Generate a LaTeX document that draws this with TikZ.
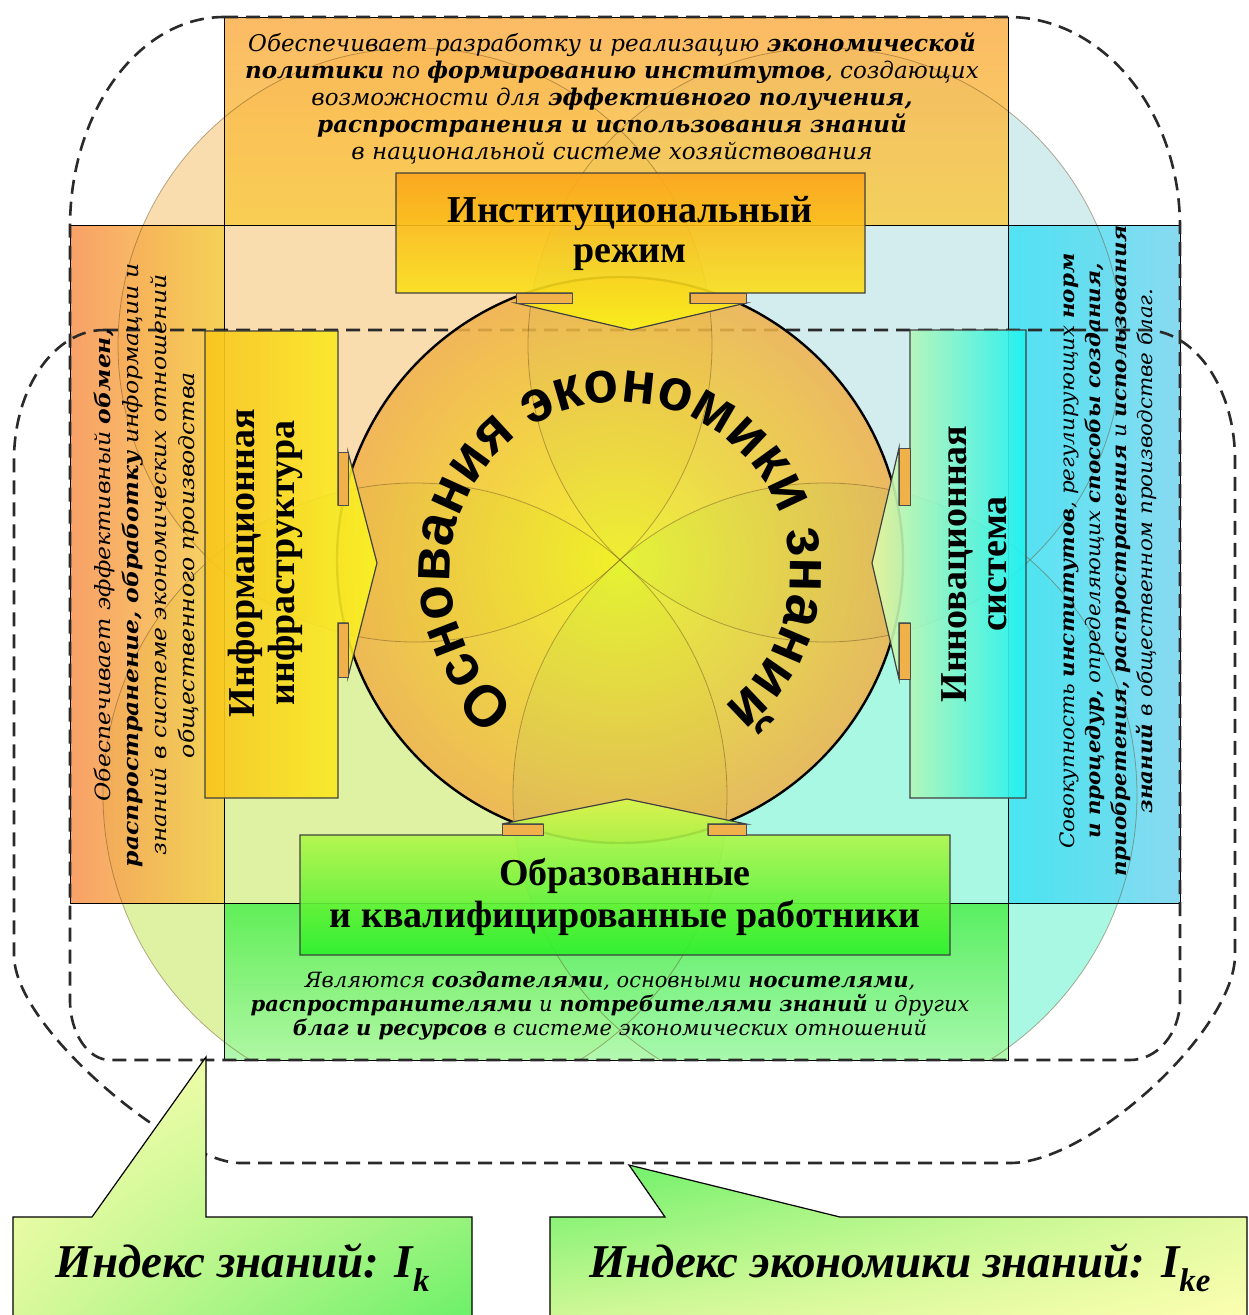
\documentclass[tikz,border=0pt]{standalone}
\usepackage{fontspec}
\setmainfont{DejaVu Serif}
\newfontfamily\bodyA{DejaVu Serif}
\newfontfamily\bodyB[FakeStretch=1.12]{DejaVu Serif}
\newfontfamily\bodyC[FakeStretch=1.07]{DejaVu Serif}
\newfontfamily\titlefont{Liberation Serif}
\newfontfamily\curvefont[FakeStretch=0.96]{Liberation Sans}
\usetikzlibrary{decorations.text,shadings}
\newcommand\bfi[1]{{\bfseries #1}}
\definecolor{topA}{HTML}{FBB04C}
\definecolor{topB}{HTML}{F9CC46}
\definecolor{leftA}{HTML}{F8924F}
\definecolor{leftB}{HTML}{F5D04A}
\definecolor{rightA}{HTML}{3CE2F4}
\definecolor{rightB}{HTML}{74D4EE}
\definecolor{botA}{HTML}{4CEE4C}
\definecolor{botB}{HTML}{A8F8A4}
\definecolor{cUL}{HTML}{F4A62C}
\definecolor{cUR}{HTML}{78C4C8}
\definecolor{cLL}{HTML}{B4E228}
\definecolor{cLR}{HTML}{30F0C0}
\definecolor{ringOut}{HTML}{F0B04A}
\definecolor{ringIn}{HTML}{F4F41C}
\definecolor{btA}{HTML}{FBA51C}
\definecolor{btB}{HTML}{FAF21A}
\definecolor{blA}{HTML}{F9C51C}
\definecolor{blB}{HTML}{FAF424}
\definecolor{brA}{HTML}{E4F8A4}
\definecolor{brB}{HTML}{1EF2F2}
\definecolor{bbA}{HTML}{D8F850}
\definecolor{bbB}{HTML}{2CF02C}
\definecolor{petalc}{HTML}{6A4A20}
\definecolor{dashc}{HTML}{2A2A2A}
\definecolor{calY}{HTML}{FFFFB2}
\definecolor{calM}{HTML}{D8F89A}
\definecolor{calG}{HTML}{66F066}
\begin{document}
\begin{tikzpicture}[x=1pt,y=-1pt,
  dashline/.style={draw=dashc, line width=2.6pt, dash pattern=on 14pt off 8pt},
  petal/.style={draw=petalc, line width=0.8pt, draw opacity=0.45},
  notch/.style={fill=ringOut, draw=black!70, line width=0.8pt},
  boxline/.style={draw=black!75, line width=1.2pt},
  rectline/.style={draw=black, line width=1pt},
  bodytext/.style={align=center, inner sep=0pt},
  titletext/.style={align=center, inner sep=0pt, font=\titlefont\bfseries\fontsize{38}{40}\selectfont},
  calltext/.style={inner sep=0pt, anchor=base, font=\titlefont\bfseries\itshape\fontsize{47}{47}\selectfont},
]
\useasboundingbox (0,0) rectangle (1249,1315);
\fill[white] (0,0) rectangle (1249,1315);

% background circles (clipped to outer region)
\begin{scope}
\clip (224,17) -- (1008,17) arc[start angle=270, end angle=360, x radius=172, y radius=210]
  -- (1180,1000) arc[start angle=0, end angle=90, x radius=50, y radius=60]
  -- (110,1060) arc[start angle=90, end angle=180, x radius=40, y radius=60]
  -- (70,227) arc[start angle=180, end angle=270, x radius=154, y radius=210] -- cycle;
\fill[cUL, fill opacity=.38] (415,345) circle[radius=297];
\fill[cUR, fill opacity=.32] (825,345) circle[radius=297];
\fill[cLL, fill opacity=.42] (415,795) circle[radius=312];
\fill[cLR, fill opacity=.42] (825,795) circle[radius=312];
\end{scope}

% side rectangles
\shade[top color=topA, bottom color=topB, fill opacity=.86] (224,17) rectangle (1008,225);
\shade[left color=leftA, right color=leftB, fill opacity=.86] (70,225) rectangle (224,903);
\shade[left color=rightA, right color=rightB, fill opacity=.86] (1008,225) rectangle (1180,903);
\shade[top color=botA, bottom color=botB, fill opacity=.86] (224,903) rectangle (1008,1060);

% outer dashed outline 2
\draw[dashline] (104,330) -- (1145,330) arc[start angle=270, end angle=360, x radius=90, y radius=130]
  -- (1235,955) .. controls (1235,1030) and (1090,1163) .. (1010,1163)
  -- (240,1163) .. controls (180,1163) and (14,1030) .. (14,955)
  -- (14,460) arc[start angle=180, end angle=270, x radius=90, y radius=130] -- cycle;

% central disc and circle outlines
\begin{scope}
\clip (224,17) -- (1008,17) arc[start angle=270, end angle=360, x radius=172, y radius=210]
  -- (1180,1000) arc[start angle=0, end angle=90, x radius=50, y radius=60]
  -- (110,1060) arc[start angle=90, end angle=180, x radius=40, y radius=60]
  -- (70,227) arc[start angle=180, end angle=270, x radius=154, y radius=210] -- cycle;
\shade[inner color=ringIn, outer color=ringOut, fill opacity=.85] (620,560) circle[radius=283];
\draw[petal] (415,345) circle[radius=297];
\draw[petal] (825,345) circle[radius=297];
\draw[petal] (415,795) circle[radius=312];
\draw[petal] (825,795) circle[radius=312];
\end{scope}

% rectangle borders
\draw[rectline] (224,17) rectangle (1008,225);
\draw[rectline] (70,225) rectangle (224,903);
\draw[rectline] (1008,225) rectangle (1180,903);
\draw[rectline] (224,903) rectangle (1008,1060);

% central circle outline
\draw[line width=2.4pt] (620,560) circle[radius=283];

% boxes with arrows
\shadedraw[top color=btA, bottom color=btB, fill opacity=.9, boxline]
  (396,173) -- (865,173) -- (865,293) -- (690,293) -- (690,303) -- (746,303) -- (631,330)
  -- (516,303) -- (572,303) -- (572,293) -- (396,293) -- cycle;
\filldraw[notch] (516,293) rectangle (572,303);
\filldraw[notch] (690,293) rectangle (746,303);

\shadedraw[left color=blA, right color=blB, fill opacity=.9, boxline]
  (205,331) -- (338,331) -- (338,505) -- (348,505) -- (348,452) -- (377,563) -- (348,677)
  -- (348,623) -- (338,623) -- (338,798) -- (205,798) -- cycle;
\filldraw[notch] (338,452) rectangle (348,505);
\filldraw[notch] (338,623) rectangle (348,677);

\shadedraw[left color=brA, right color=brB, fill opacity=.9, boxline]
  (910,330) -- (1026,330) -- (1026,798) -- (910,798) -- (910,623) -- (899,623) -- (899,679)
  -- (872,563) -- (899,448) -- (899,505) -- (910,505) -- cycle;
\filldraw[notch] (899,448) rectangle (910,505);
\filldraw[notch] (899,623) rectangle (910,679);

\shadedraw[top color=bbA, bottom color=bbB, fill opacity=.9, boxline]
  (300,835) -- (543,835) -- (543,824) -- (502,824) -- (627,799) -- (746,824) -- (708,824)
  -- (708,835) -- (950,835) -- (950,955) -- (300,955) -- cycle;
\filldraw[notch] (502,824) rectangle (543,835);
\filldraw[notch] (708,824) rectangle (746,835);

% curved title
\path[decorate, decoration={text along path, text align=center,
  text={|\curvefont\bfseries\fontsize{59}{59}\selectfont|Основания экономики знаний}}]
  (620,572) ++(118:170) arc[start angle=118, end angle=422, radius=170];

% titles
\node[titletext] (t1) at (630,233) {Институциональный\\режим};
\node[titletext, rotate=90] (t2) at (265,563) {Информационная\\инфраструктура};
\node[titletext, rotate=90] (t3) at (974,564) {Инновационная\\система};
\node[titletext, font=\titlefont\bfseries\fontsize{38}{42}\selectfont] (t4) at (625,897) {Образованные\\и квалифицированные работники};

% body texts
\node[bodytext, font=\bodyA\itshape\fontsize{23}{27}\selectfont] (ttext) at (612,98)
 {Обеспечивает разработку и реализацию \bfi{экономической}\\
  \bfi{политики} по \bfi{формированию институтов}, создающих\\
  возможности для \bfi{эффективного получения,}\\
  \bfi{распространения и использования знаний}\\
  в национальной системе хозяйствования};
\node[bodytext, rotate=90, font=\bodyB\itshape\fontsize{21}{28}\selectfont] (ltext) at (146,565)
 {Обеспечивает эффективный \bfi{обмен,}\\
  \bfi{распространение, обработку} информации и\\
  знаний в системе экономических отношений\\
  общественного производства};
\node[bodytext, rotate=90, font=\bodyC\itshape\fontsize{20}{26}\selectfont] (rtext) at (1108,551)
 {Совокупность \bfi{институтов}, регулирующих \bfi{норм}\\
  \bfi{и процедур,} определяющих \bfi{способы создания,}\\
  \bfi{приобретения, распространения} и \bfi{использования}\\
  \bfi{знаний} в общественном производстве благ.};
\node[bodytext, font=\bodyA\itshape\fontsize{21}{24}\selectfont] (btext) at (610,1006)
 {Являются \bfi{создателями}, основными \bfi{носителями},\\
  \bfi{распространителями} и \bfi{потребителями знаний} и других\\
  \bfi{благ и ресурсов} в системе экономических отношений};

% dashed outline 1
\draw[dashline] (224,17) -- (1008,17) arc[start angle=270, end angle=360, x radius=172, y radius=210]
  -- (1180,1000) arc[start angle=0, end angle=90, x radius=50, y radius=60]
  -- (110,1060) arc[start angle=90, end angle=180, x radius=40, y radius=60]
  -- (70,227) arc[start angle=180, end angle=270, x radius=154, y radius=210] -- cycle;

% callouts
\shadedraw[upper left=calY, upper right=calM, lower left=calM, lower right=calG, draw=black, line width=1.2pt]
  (13,1217) -- (92,1217) -- (206,1057) -- (206,1217) -- (472,1217) -- (472,1330) -- (13,1330) -- cycle;
\shadedraw[upper left=calG, upper right=calM, lower left=calM, lower right=calY, draw=black, line width=1.2pt]
  (550,1217) -- (665,1217) -- (629,1165) -- (840,1217) -- (1247,1217) -- (1247,1330) -- (550,1330) -- cycle;
\node[calltext] (ik) at (243,1277) {Индекс знаний: I\textsubscript{k}};
\node[calltext] (ike) at (900,1277) {Индекс экономики знаний: I\textsubscript{ke}};
\end{tikzpicture}
\end{document}
